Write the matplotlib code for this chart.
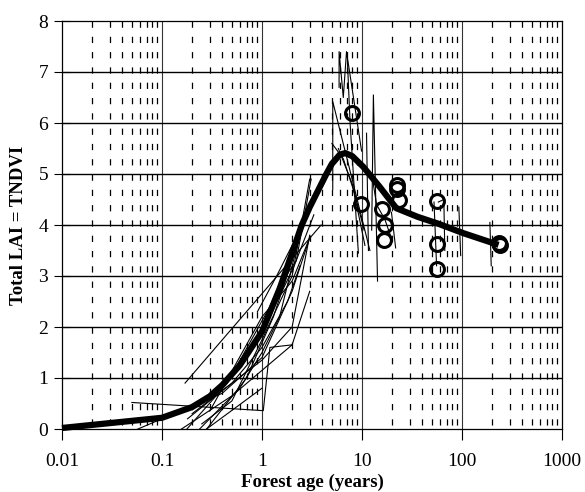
import numpy as np
import matplotlib
matplotlib.use("Agg")
import matplotlib.pyplot as plt

plt.rcParams['font.family'] = ['Liberation Serif', 'DejaVu Serif']

# ---- data ----
mean_age = [0.01, 0.1, 0.2, 0.3, 0.4, 0.6, 1.0, 1.5, 2.0, 2.5, 3.0, 4.4, 5.0, 6.0, 6.8, 8.0, 10.3, 15, 22, 36, 57, 103, 232]
mean_lai = [0.02, 0.22, 0.43, 0.64, 0.86, 1.25, 1.91, 2.75, 3.45, 4.0, 4.35, 5.0, 5.2, 5.38, 5.41, 5.35, 5.14, 4.75, 4.33, 4.16, 4.03, 3.84, 3.61]

obs_age = [8.0, 9.7, 15.7, 17.0, 16.6, 22.6, 22.6, 23.4, 56.7, 56.7, 56.7, 232, 240]
obs_lai = [6.20, 4.41, 4.31, 4.00, 3.71, 4.78, 4.70, 4.50, 4.48, 3.63, 3.14, 3.65, 3.61]

# individual site chronosequences (thin lines)
site_a_age = [0.05, 1.03, 1.2, 2.0, 3.0];  site_a_lai = [0.52, 0.36, 1.6, 1.65, 2.7]
site_b_age = [0.17, 3.9];                  site_b_lai = [0.9, 4.0]
site_c_age = [0.05, 0.4, 1.0, 2.0, 3.0];   site_c_lai = [-0.05, 0.7, 1.4, 2.7, 3.75]
site_d_age = [0.12, 0.5, 2.0];             site_d_lai = [-0.15, 0.65, 1.65]
site_e_age = [0.2, 0.6, 1.0, 1.5, 2.6];    site_e_lai = [-0.15, 0.8, 1.5, 2.2, 4.1]
site_f_age = [0.18, 0.4, 1.0, 2.0, 3.0];   site_f_lai = [0.2, 0.75, 1.35, 2.0, 3.8]
site_g_age = [0.25, 0.5, 1.0, 2.0, 3.0];   site_g_lai = [0.1, 0.55, 1.75, 3.0, 4.9]
site_h_age = [0.22, 1.0];                  site_h_lai = [-0.15, 0.8]
site_i_age = [0.3, 1.0, 2.0, 3.0];         site_i_lai = [0.35, 2.2, 2.9, 3.75]
site_j_age = [0.16, 0.45, 1.2, 2.2];       site_j_lai = [-0.1, 0.9, 2.4, 3.6]
site_k_age = [1.2, 1.6, 2.2, 3.1];         site_k_lai = [2.4, 2.9, 3.3, 4.9]
site_l_age = [0.9, 1.4, 2.0];              site_l_lai = [2.3, 3.0, 3.6]
site_z1_age = [0.2, 0.5, 1.0, 1.8, 2.4];   site_z1_lai = [0.3, 0.9, 1.6, 2.5, 3.2]
site_z2_age = [0.28, 0.7, 1.3, 2.0];       site_z2_lai = [0.0, 1.0, 2.2, 3.3]
site_z3_age = [1.0, 1.5, 2.1, 3.3];        site_z3_lai = [2.0, 2.6, 3.2, 4.2]

site_m_age = [5.9, 5.9, 6.5, 7.0, 9.9];    site_m_lai = [6.7, 7.4, 6.5, 7.4, 5.45]
site_n_age = [7.1, 7.6, 9.2];              site_n_lai = [7.35, 6.0, 3.45]
site_o_age = [5.1, 5.1, 12.0];             site_o_lai = [4.7, 6.42, 3.5]
site_p_age = [12.5, 13.0, 14.3];           site_p_lai = [3.9, 6.55, 2.9]
site_q_age = [11.1, 11.6];                 site_q_lai = [5.8, 3.5]
site_r_age = [5.8, 8.0, 10.7];             site_r_lai = [5.5, 4.8, 3.6]
site_s_age = [5.0, 6.5, 8.5, 10.5];        site_s_lai = [5.6, 5.3, 4.6, 3.9]
site_t_age = [19.7, 21.7];                 site_t_lai = [4.25, 3.55]
site_u_age = [12.5, 14.0, 17.0, 20.0];     site_u_lai = [5.0, 4.4, 4.1, 3.7]
site_v_age = [52.5, 55.7];                 site_v_lai = [4.45, 3.2]
site_w_age = [58.0, 65.8, 67.3];           site_w_lai = [4.45, 4.5, 3.5]
site_x_age = [93.0, 97.0];                 site_x_lai = [4.35, 3.4]
site_y_age = [190.0, 196.0];               site_y_lai = [4.05, 3.2]

sites = [
    (site_a_age, site_a_lai), (site_b_age, site_b_lai), (site_c_age, site_c_lai),
    (site_d_age, site_d_lai), (site_e_age, site_e_lai), (site_f_age, site_f_lai),
    (site_g_age, site_g_lai), (site_h_age, site_h_lai), (site_i_age, site_i_lai),
    (site_j_age, site_j_lai), (site_k_age, site_k_lai), (site_l_age, site_l_lai),
    (site_z1_age, site_z1_lai), (site_z2_age, site_z2_lai), (site_z3_age, site_z3_lai),
    (site_m_age, site_m_lai), (site_n_age, site_n_lai), (site_o_age, site_o_lai),
    (site_p_age, site_p_lai), (site_q_age, site_q_lai), (site_r_age, site_r_lai),
    (site_s_age, site_s_lai), (site_t_age, site_t_lai), (site_u_age, site_u_lai),
    (site_v_age, site_v_lai), (site_w_age, site_w_lai), (site_x_age, site_x_lai),
    (site_y_age, site_y_lai),
]

x_ticks = [0.01, 0.1, 1, 10, 100, 1000]
x_tick_labels = ["0.01", "0.1", "1", "10", "100", "1000"]
y_ticks = [0, 1, 2, 3, 4, 5, 6, 7, 8]

# ---- figure ----
fig = plt.figure(figsize=(5.85, 4.92), dpi=100)
ax = fig.add_axes([62/585, 1-429/492, 500/585, 408/492])
ax.set_xscale('log')
ax.set_xlim(0.01, 1000)
ax.set_ylim(0, 8)

# minor dashed verticals
for k in range(-2, 3):
    for m in range(2, 10):
        xv = m * 10.0**k
        ax.plot([xv, xv], [8, 0], color='black', lw=0.9, dashes=(5, 7.24), zorder=1)
# decade solid verticals
for xv in x_ticks[1:-1]:
    ax.plot([xv, xv], [0, 8], color='#333333', lw=0.8, zorder=1)
# horizontal grid
for yv in y_ticks[1:-1]:
    ax.plot([0.01, 1000], [yv, yv], color='black', lw=1.0, zorder=1)

for xs, ys in sites:
    ax.plot(xs, ys, color='black', lw=0.8, zorder=2)

ax.plot(mean_age, mean_lai, color='black', lw=4.5, zorder=3, solid_capstyle='butt', clip_on=False)
ax.plot(obs_age, obs_lai, linestyle='none', marker='o', ms=10, mfc='none',
        mec='black', mew=2.2, zorder=4)

ax.set_xticks(x_ticks)
ax.set_xticklabels(x_tick_labels)
ax.xaxis.set_minor_locator(matplotlib.ticker.NullLocator())
ax.set_yticks(y_ticks)
ax.tick_params(axis='x', direction='out', length=8, width=0.8, labelsize=14, pad=9)
ax.tick_params(axis='y', direction='inout', length=12, width=0.8, labelsize=14, pad=4)
for s in ax.spines.values():
    s.set_linewidth(0.9)
    s.set_color('black')

ax.set_xlabel('Forest age (years)', fontsize=13.5, fontweight='bold', labelpad=3)
ax.set_ylabel('Total LAI = TNDVI', fontsize=13.5, fontweight='bold', labelpad=8)

fig.savefig('out.png', dpi=100)
